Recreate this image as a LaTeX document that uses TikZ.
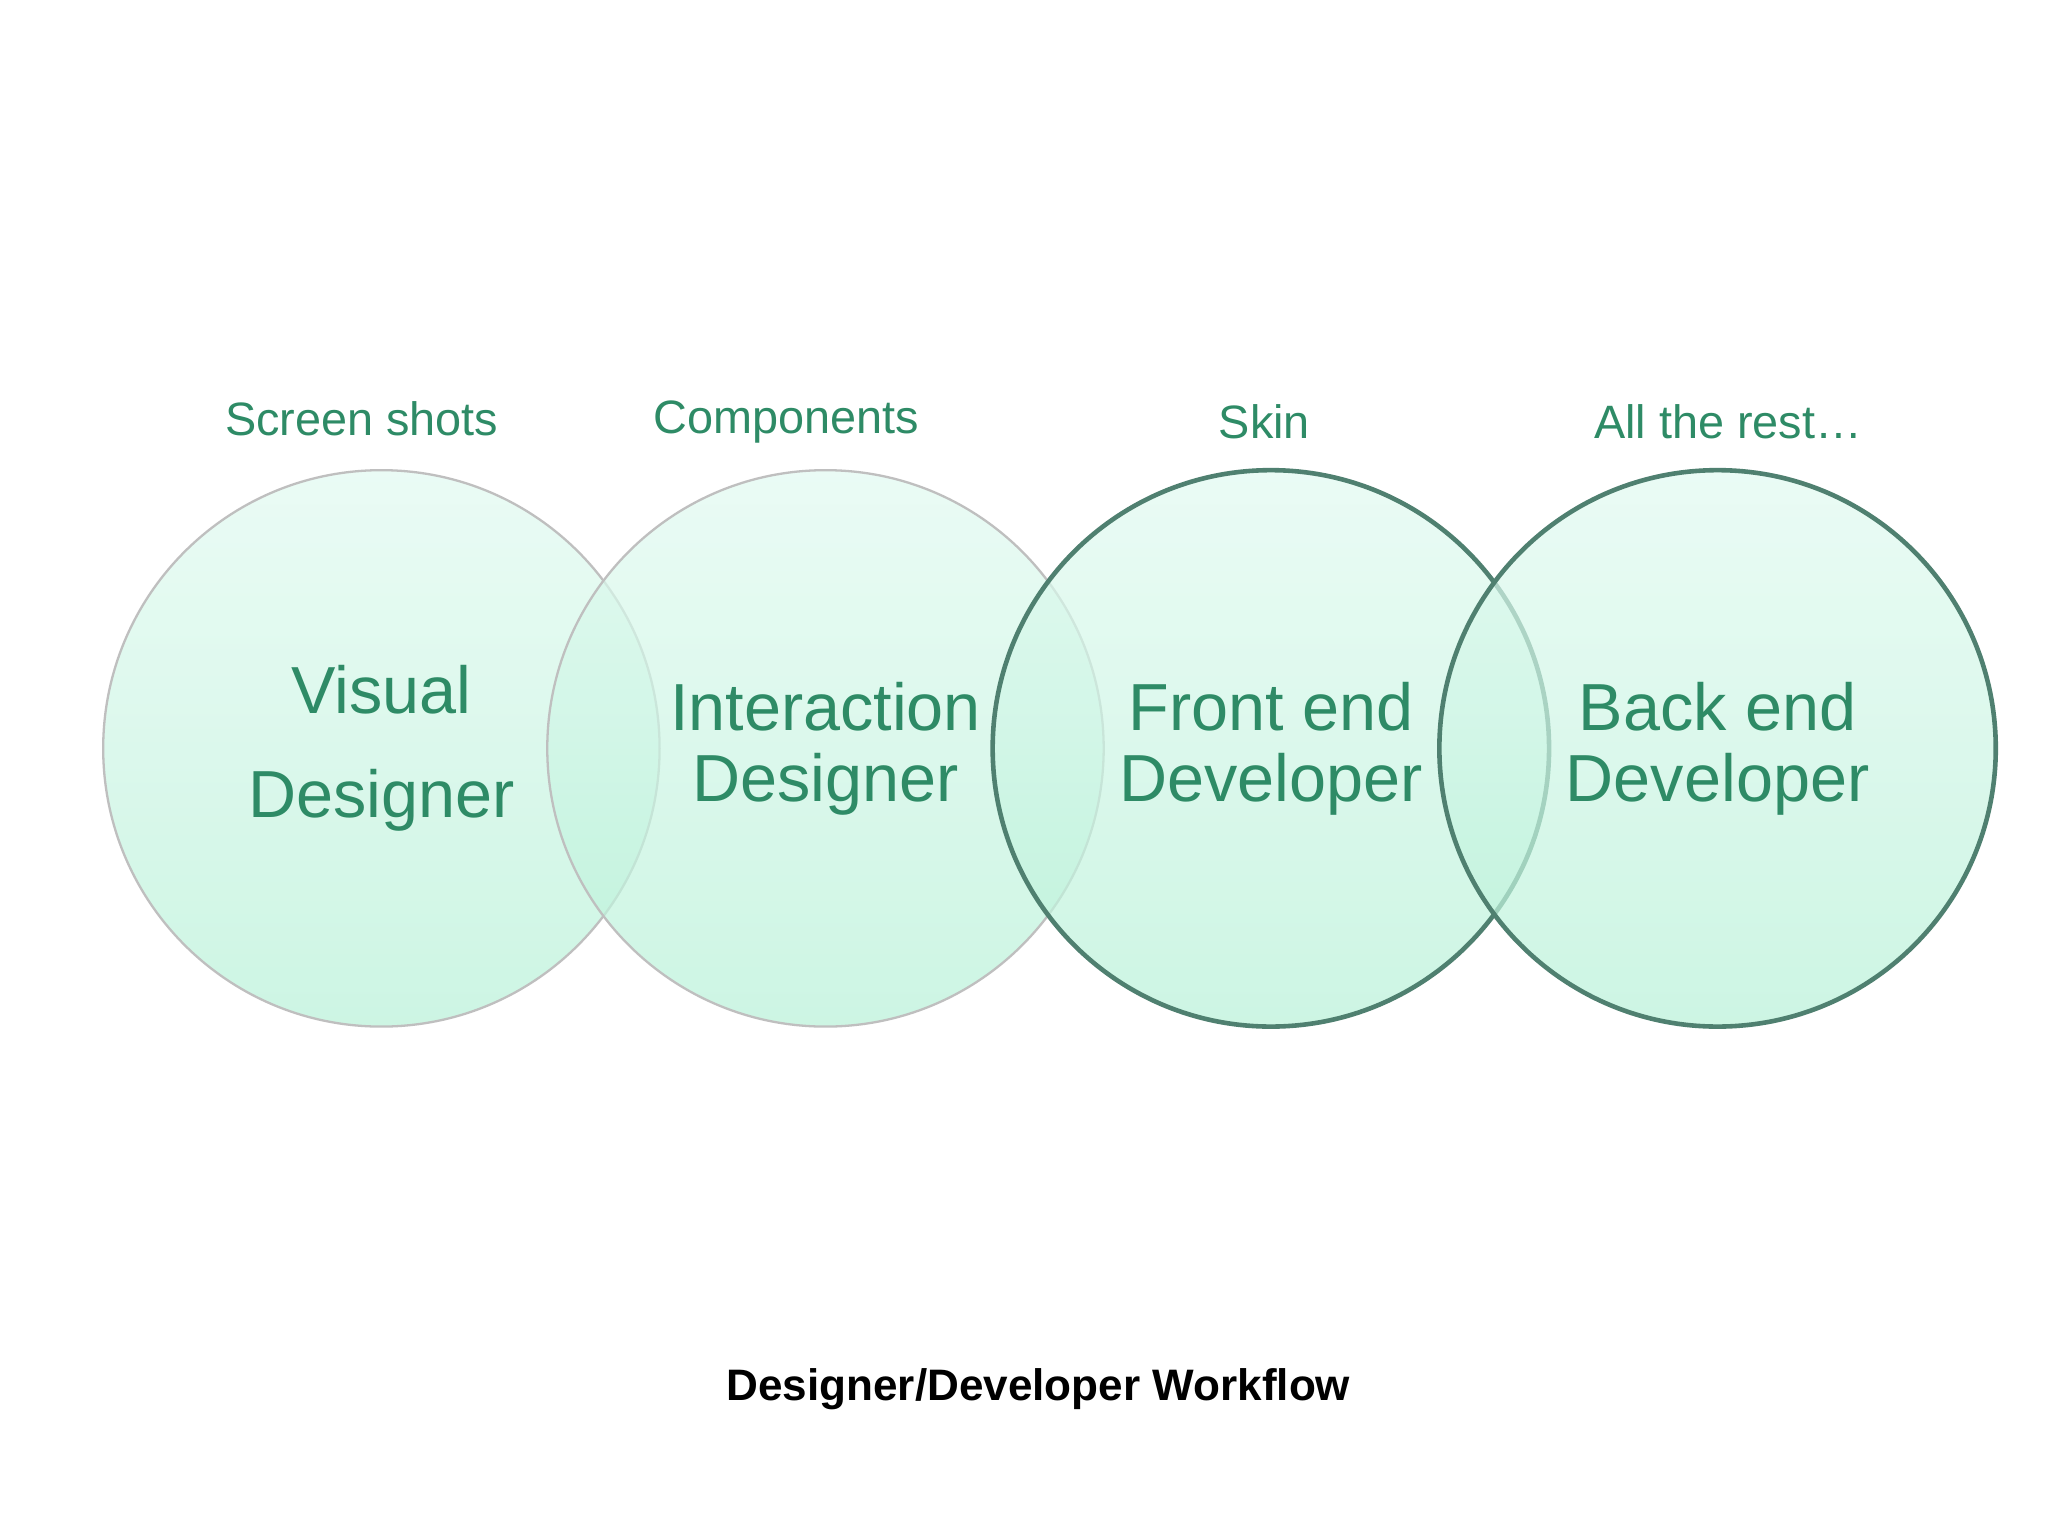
\documentclass[tikz,border=0pt]{standalone}
\usepackage{fontspec}
\setmainfont{Liberation Sans}
\definecolor{txt}{HTML}{2E8B66}
\definecolor{mtop}{HTML}{E2FAF1}
\definecolor{mbot}{HTML}{B8F2D8}
\definecolor{edge}{HTML}{4F8070}
\begin{document}
\begin{tikzpicture}[x=1cm,y=1cm,
  bub/.style={circle,minimum size=4.26cm,top color=mtop,bottom color=mbot,fill opacity=0.7,text opacity=1},
  lite/.style={draw=black!25,line width=0.5pt},
  dark/.style={draw=edge,line width=1pt},
  big/.style={text=txt,font=\fontsize{14.5}{15.5}\selectfont,align=center},
  small/.style={text=txt,font=\fontsize{10.2}{12}\selectfont}]
\useasboundingbox[fill=white] (0,0) rectangle (15.68,11.76);
\node[bub,lite] (c1) at (2.92,6.03) {};
\node[bub,lite] (c2) at (6.32,6.03) {};
\node[bub,dark] (c3) at (9.73,6.03) {};
\node[bub,dark] (c4) at (13.15,6.03) {};
\node[big,font=\fontsize{14.5}{22.5}\selectfont] (t1) at (2.92,6.03) {Visual\\Designer};
\node[big] (t2) at (6.32,6.03) {Interaction\\Designer};
\node[big] (t3) at (9.73,6.03) {Front end\\Developer};
\node[big] (t4) at (13.15,6.03) {Back end\\Developer};
\node[small] (l1) at (2.77,8.55) {Screen shots};
\node[small] (l2) at (6.02,8.53) {Components};
\node[small] (l3) at (9.68,8.53) {Skin};
\node[small] (l4) at (13.23,8.53) {All the rest…};
\node[font=\bfseries\fontsize{9.6}{11}\selectfont] (ttl) at (7.95,1.12) {Designer/Developer Workflow};
\end{tikzpicture}
\end{document}
